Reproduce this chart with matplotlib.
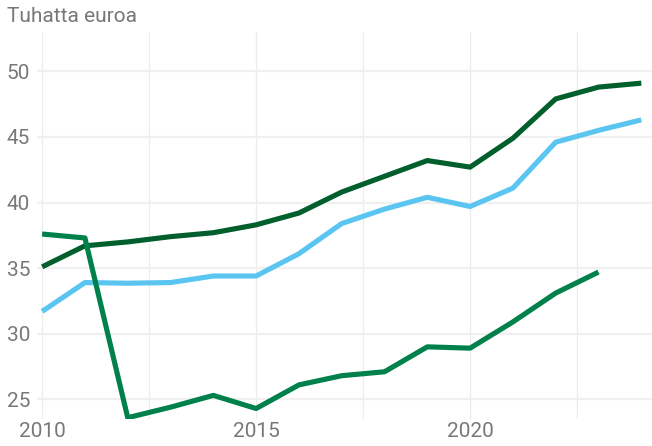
import numpy as np
import matplotlib.pyplot as plt
from matplotlib.ticker import MultipleLocator

plt.rcParams['font.family'] = ['Roboto', 'DejaVu Sans']

# vuodet ja sarjat (tuhatta euroa)
years = list(range(2010, 2025))
dark_green = [35.1, 36.7, 37.0, 37.4, 37.7, 38.3, 39.2, 40.8, 42.0, 43.2, 42.7, 44.9, 47.9, 48.8, 49.1]
light_blue = [31.7, 33.9, 33.85, 33.9, 34.4, 34.4, 36.1, 38.4, 39.5, 40.4, 39.7, 41.1, 44.6, 45.5, 46.3]
mid_green_years = list(range(2010, 2024))
mid_green = [37.6, 37.3, 23.6, 24.4, 25.3, 24.3, 26.1, 26.8, 27.1, 29.0, 28.9, 30.9, 33.1, 34.7]

grey = '#787878'

fig = plt.figure(figsize=(6.52, 4.46), dpi=100)
ax = fig.add_axes([37 / 652, 27 / 446, 615 / 652, 387 / 446])

ax.plot(years, dark_green, color='#005f2d', lw=3.7, solid_capstyle='butt', zorder=3)
ax.plot(years, light_blue, color='#5bc5f2', lw=3.7, solid_capstyle='butt', zorder=3)
ax.plot(mid_green_years, mid_green, color='#00804b', lw=3.7, solid_capstyle='butt', zorder=4)

ax.set_xlim(2009.88, 2024.25)
ax.set_ylim(23.5, 53)

ax.xaxis.set_major_locator(MultipleLocator(5))
ax.xaxis.set_minor_locator(MultipleLocator(2.5))
ax.yaxis.set_major_locator(MultipleLocator(5))

ax.grid(axis='y', which='major', color='#f0f0f0', lw=1.6, zorder=0)
ax.grid(axis='x', which='both', color='#ececec', lw=0.9, zorder=0)

for s in ax.spines.values():
    s.set_visible(False)
ax.tick_params(which='both', length=0, labelsize=15, labelcolor=grey)
ax.tick_params(axis='y', pad=5)
ax.tick_params(axis='x', pad=2)
ax.set_xticks([2010, 2015, 2020])

fig.text(7 / 652, 1 - 17 / 446, 'Tuhatta euroa', fontsize=15, color=grey, va='center', ha='left')

fig.savefig('out.png', dpi=100)
